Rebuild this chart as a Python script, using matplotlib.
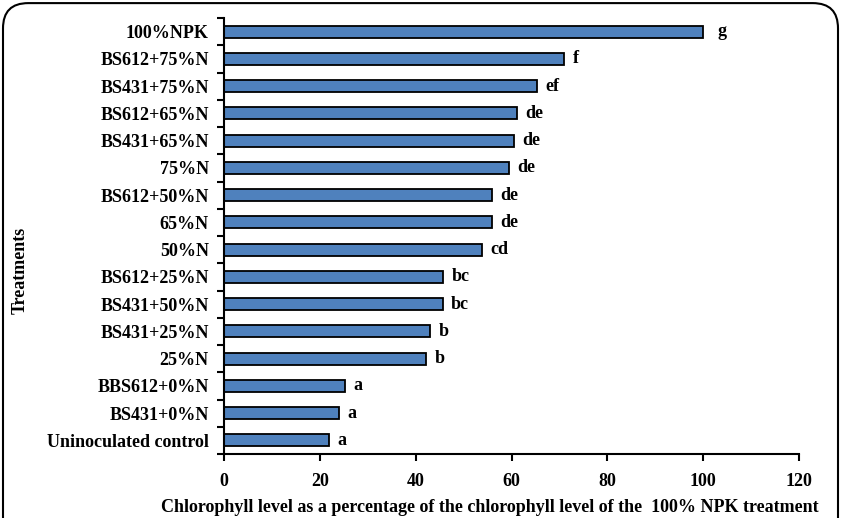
import matplotlib.pyplot as plt
from matplotlib.patches import FancyBboxPatch

treatments = ['Uninoculated control', 'BS431+0%N', 'BBS612+0%N', '25%N', 'BS431+25%N',
              'BS431+50%N', 'BS612+25%N', '50%N', '65%N', 'BS612+50%N', '75%N',
              'BS431+65%N', 'BS612+65%N', 'BS431+75%N', 'BS612+75%N', '100%NPK']
chlorophyll = [22.0, 24.0, 25.3, 42.2, 43.0, 45.6, 45.8, 53.8, 55.9, 55.9, 59.4,
               60.5, 61.1, 65.4, 71.0, 100.0]
letters = ['a', 'a', 'a', 'b', 'b', 'bc', 'bc', 'cd', 'de', 'de', 'de',
           'de', 'de', 'ef', 'f', 'g']

plt.rcParams['font.family'] = 'Liberation Serif'
plt.rcParams['font.weight'] = 'bold'

fig = plt.figure(figsize=(8.41, 5.18), dpi=100)
ax = fig.add_axes([224/841, 1 - 454/518, 575/841, 436/518])

ypos = range(len(treatments))
ax.barh(ypos, chlorophyll, height=0.44, color='#4F81BD', edgecolor='black', linewidth=1.3)
for y, v, l in zip(ypos, chlorophyll, letters):
    off = 10 if l == 'g' else 6
    ax.annotate(l, (v, y), xytext=(off, 0), textcoords='offset points',
                va='center', ha='left', fontsize=13, fontweight='bold')

ax.set_xlim(0, 120)
ax.set_ylim(-0.5, len(treatments) - 0.5)
ax.set_xticks(range(0, 121, 20))
ax.set_yticks(list(ypos))
ax.set_yticklabels(treatments, fontsize=13, fontweight='bold')
ax.set_yticks([i + 0.5 for i in range(-1, len(treatments))], minor=True)
ax.tick_params(axis='y', which='major', length=0, pad=11)
ax.tick_params(axis='y', which='minor', length=5, width=1.5, direction='out')
ax.tick_params(axis='x', length=5, width=1.5, direction='out', labelsize=13, pad=9)
for lab in ax.get_xticklabels():
    lab.set_fontweight('bold')
for s in ['top', 'right']:
    ax.spines[s].set_visible(False)
for s in ['left', 'bottom']:
    ax.spines[s].set_linewidth(1.5)

fig.text(20/841, 1 - 270/518, 'Treatments', rotation=90, ha='center', va='center',
         fontsize=13, fontweight='bold')
fig.text(490/841, 1 - 499/518, 'Chlorophyll level as a percentage of the chlorophyll level of the  100% NPK treatment',
         ha='center', va='top', fontsize=13, fontweight='bold')

border = FancyBboxPatch((3/841, -0.1), 835/841, 1.094, boxstyle='round,pad=0,rounding_size=0.03',
                        transform=fig.transFigure, fill=False, edgecolor='black', linewidth=1.5,
                        mutation_aspect=841/518)
fig.patches.append(border)

fig.savefig('out.png', dpi=100)
